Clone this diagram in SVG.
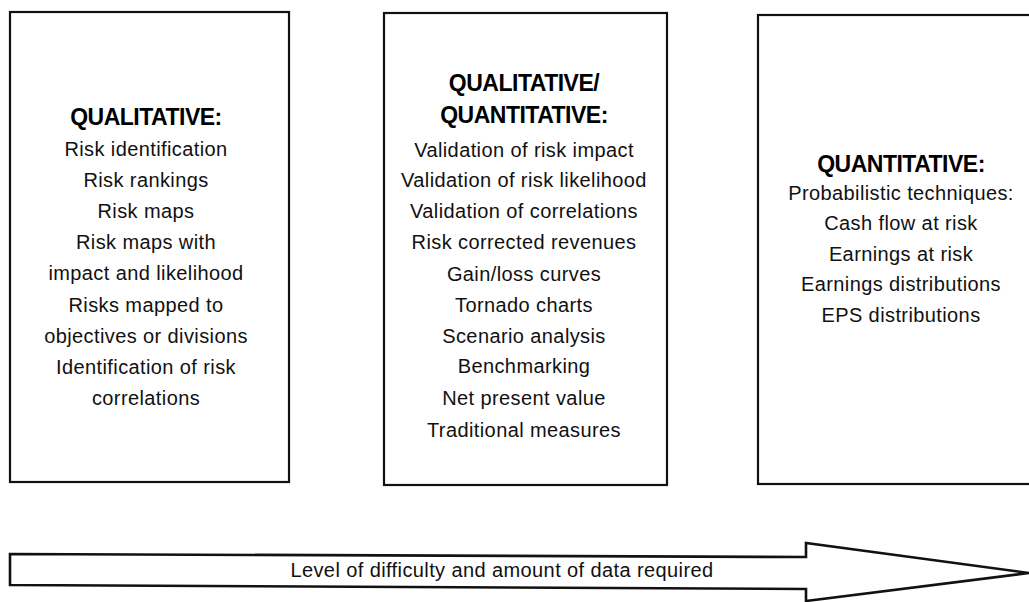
<svg xmlns="http://www.w3.org/2000/svg" width="1029" height="602" viewBox="0 0 1029 602">
<style>
.box{fill:#fff;stroke:#111;stroke-width:2.2}
.t{font-family:"Liberation Sans",Arial,sans-serif;font-size:20px;letter-spacing:0.4px;fill:#111;text-anchor:middle}
.h{font-family:"Liberation Sans",Arial,sans-serif;font-size:23px;font-weight:bold;letter-spacing:-0.5px;fill:#000;text-anchor:middle}
.arrow{fill:#fff;stroke:#111;stroke-width:2.6;stroke-linejoin:miter}
</style>
<rect width="1029" height="602" fill="#fff"/>
<g id="qualitative">
<rect class="box" x="10" y="12" width="279" height="470"/>
<text class="h" x="146" y="125">QUALITATIVE:</text>
<text class="t" x="146" y="156">Risk identification</text>
<text class="t" x="146" y="187">Risk rankings</text>
<text class="t" x="146" y="218">Risk maps</text>
<text class="t" x="146" y="249">Risk maps with</text>
<text class="t" x="146" y="280">impact and likelihood</text>
<text class="t" x="146" y="312">Risks mapped to</text>
<text class="t" x="146" y="343">objectives or divisions</text>
<text class="t" x="146" y="374">Identification of risk</text>
<text class="t" x="146" y="405">correlations</text>
</g>
<g id="qualitative-quantitative">
<rect class="box" x="384" y="13" width="283" height="472"/>
<text class="h" x="524" y="91">QUALITATIVE/</text>
<text class="h" x="524" y="123">QUANTITATIVE:</text>
<text class="t" x="524" y="157">Validation of risk impact</text>
<text class="t" x="524" y="187">Validation of risk likelihood</text>
<text class="t" x="524" y="218">Validation of correlations</text>
<text class="t" x="524" y="249">Risk corrected revenues</text>
<text class="t" x="524" y="281">Gain/loss curves</text>
<text class="t" x="524" y="312">Tornado charts</text>
<text class="t" x="524" y="343">Scenario analysis</text>
<text class="t" x="524" y="373">Benchmarking</text>
<text class="t" x="524" y="405">Net present value</text>
<text class="t" x="524" y="437">Traditional measures</text>
</g>
<g id="quantitative">
<rect class="box" x="758" y="15" width="290" height="469"/>
<text class="h" x="901" y="172">QUANTITATIVE:</text>
<text class="t" x="901" y="200">Probabilistic techniques:</text>
<text class="t" x="901" y="230">Cash flow at risk</text>
<text class="t" x="901" y="261">Earnings at risk</text>
<text class="t" x="901" y="291">Earnings distributions</text>
<text class="t" x="901" y="322">EPS distributions</text>
</g>
<g id="connectors">
<g id="difficulty-arrow">
<polygon class="arrow" points="10,554 806,557 806,543 1029,573 806,601 806,589 10,585"/>
<text class="t" x="502" y="577">Level of difficulty and amount of data required</text>
</g>
</g>
</svg>
